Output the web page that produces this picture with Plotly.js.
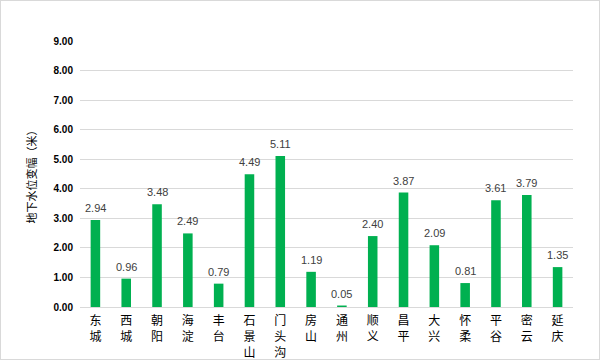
<!DOCTYPE html>
<html>
<head>
<meta charset="utf-8">
<script src="https://cdn.plot.ly/plotly-3.0.1.min.js"></script>
<style>
html,body{margin:0;padding:0;background:#fff;}
#wrap{position:relative;width:600px;height:360px;}
#chart{width:600px;height:360px;}
#frame{position:absolute;left:0;top:0;width:598px;height:358px;border:1px solid #d9d9d9;pointer-events:none;}
</style>
</head>
<body>
<div id="wrap"><div id="chart"></div><div id="frame"></div></div>
<script>
const districts = ["东城","西城","朝阳","海淀","丰台","石景山","门头沟","房山","通州","顺义","昌平","大兴","怀柔","平谷","密云","延庆"];
const changes = [2.94,0.96,3.48,2.49,0.79,4.49,5.11,1.19,0.05,2.40,3.87,2.09,0.81,3.61,3.79,1.35];
const yTicks = [0,1,2,3,4,5,6,7,8,9];
const yTickText = yTicks.map(v => v.toFixed(2));
const yTitle = "地下水位变幅（米）";

const xTickText = districts.map(d => d.split("").join("<br>"));

const trace = {
  type: "bar",
  x: districts,
  y: changes,
  marker: {color: "#00b050"},
  cliponaxis: false,
  hoverinfo: "none"
};

const labels = districts.map((d, i) => ({
  x: d, y: changes[i], xref: "x", yref: "y",
  text: changes[i].toFixed(2),
  showarrow: false, yanchor: "bottom", xanchor: "center",
  yshift: 4,
  font: {family: "Liberation Sans, Arial, sans-serif", size: 11, color: "#404040"}
}));

const layout = {
  width: 600, height: 360,
  margin: {l: 80, r: 27, t: 41, b: 53},
  paper_bgcolor: "#fff",
  plot_bgcolor: "#fff",
  bargap: 0.69,
  showlegend: false,
  annotations: labels,
  font: {family: "Noto Sans CJK SC, sans-serif", color: "#000"},
  xaxis: {
    tickmode: "array",
    tickvals: districts,
    ticktext: xTickText,
    tickangle: 0,
    tickfont: {family: "Noto Sans CJK SC, sans-serif", size: 12, color: "#000"},
    showline: true, linecolor: "#d9d9d9", linewidth: 1,
    ticks: "", showgrid: false, zeroline: false,
    ticklabelstandoff: 3
  },
  yaxis: {
    range: [0, 9],
    tickmode: "array",
    tickvals: yTicks,
    ticktext: yTickText,
    tickfont: {family: "Liberation Sans, Arial, sans-serif", size: 10, color: "#000", weight: "bold"},
    showgrid: true, gridcolor: "#d9d9d9", gridwidth: 1,
    zeroline: false, showline: false, ticks: "",
    ticklabelstandoff: 6,
    title: {text: yTitle, font: {family: "Noto Sans CJK SC, sans-serif", size: 11, color: "#000"}, standoff: 14}
  }
};

Plotly.newPlot("chart", [trace], layout, {displayModeBar: false, staticPlot: true});
</script>
</body>
</html>
